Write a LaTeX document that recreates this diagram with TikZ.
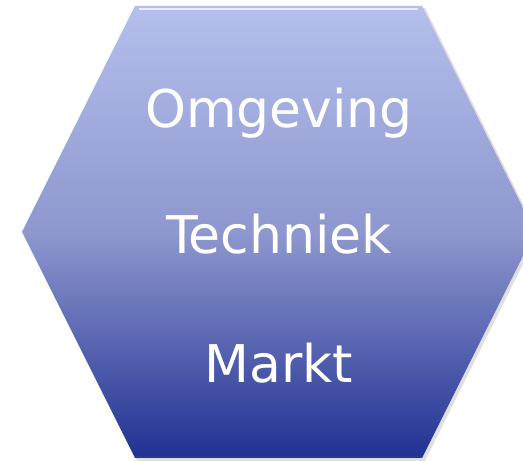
\documentclass[tikz,border=0pt]{standalone}
\usepackage{fontspec}
\setmainfont{DejaVu Sans}
\usepackage{tikz}
\usetikzlibrary{positioning,calc}
\definecolor{hextop}{HTML}{B5BFEC}
\definecolor{hexmid}{HTML}{8E97CE}
\definecolor{hexbot}{HTML}{213192}
\definecolor{hexedge}{HTML}{3A4590}

\begin{document}
\begin{tikzpicture}[x=1pt, y=1pt, every node/.style={font=\fontsize{52}{60}\selectfont, text=white, anchor=base}]
  \useasboundingbox (0,0) rectangle (523,461);
  \begin{scope}
    \clip (0,0) rectangle (523,461);
    % soft shadow
    \fill[black!25, opacity=0.5] (137,0) -- (425,0) -- (538,227) -- (425,453) -- (137,453) -- (24,227) -- cycle;
    % hexagon body
    \shade[top color=hextop, bottom color=hexbot, middle color=hexmid]
      (135,3) -- (422,3) -- (535,229) -- (422,455) -- (135,455) -- (22,229) -- cycle;
    % bevel highlight
    \draw[white, opacity=0.7, line width=2.5pt] (139,452) -- (418,452);
    \draw[hexedge, opacity=0.5, line width=1pt] (135,4) -- (422,4);
  \end{scope}
  \node (omg) at (279,333) {Omgeving};
  \node[below=126pt of omg.base, anchor=base] (tech) {Techniek};
  \node[below=129pt of tech.base, anchor=base] (markt) {Markt};
\end{tikzpicture}
\end{document}
